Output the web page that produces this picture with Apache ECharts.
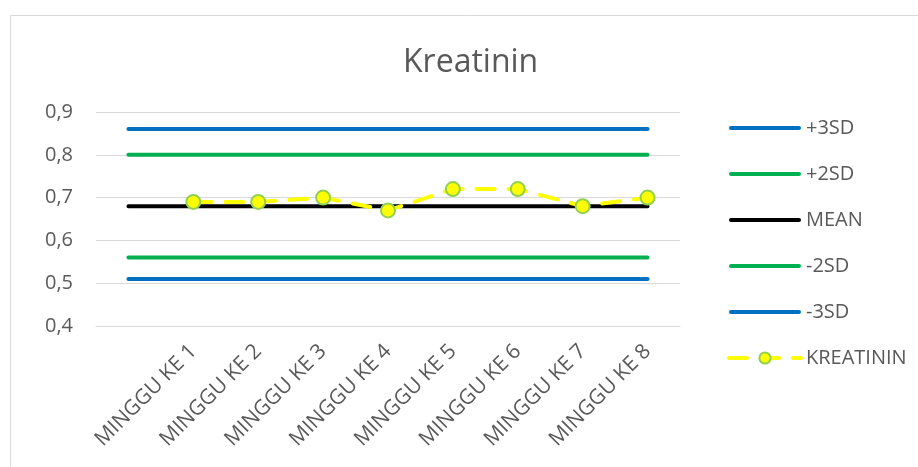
<!DOCTYPE html>
<html>
<head>
<meta charset="utf-8">
<script src="https://cdn.jsdelivr.net/npm/echarts@6/dist/echarts.min.js"></script>
<style>
html,body{margin:0;padding:0;background:#fff;}
#chart{width:918px;height:467px;}
</style>
</head>
<body>
<div id="chart"></div>
<script>
var categories = ['', 'MINGGU KE 1', 'MINGGU KE 2', 'MINGGU KE 3', 'MINGGU KE 4', 'MINGGU KE 5', 'MINGGU KE 6', 'MINGGU KE 7', 'MINGGU KE 8'];
var plus3SD  = [0.86, 0.86, 0.86, 0.86, 0.86, 0.86, 0.86, 0.86, 0.86];
var plus2SD  = [0.80, 0.80, 0.80, 0.80, 0.80, 0.80, 0.80, 0.80, 0.80];
var meanVal  = [0.68, 0.68, 0.68, 0.68, 0.68, 0.68, 0.68, 0.68, 0.68];
var minus2SD = [0.56, 0.56, 0.56, 0.56, 0.56, 0.56, 0.56, 0.56, 0.56];
var minus3SD = [0.51, 0.51, 0.51, 0.51, 0.51, 0.51, 0.51, 0.51, 0.51];
var kreatinin = ['-', 0.69, 0.69, 0.70, 0.67, 0.72, 0.72, 0.68, 0.70];
var yMin = 0.4, yMax = 0.9, yStep = 0.1;

var FONT = 'Open Sans';
var TXT = '#595959';
var BAR_ICON = 'path://M2,0 L70,0 A2,2 0 0 1 70,4 L2,4 A2,2 0 0 1 2,0 Z';

function sdLine(name, data, color) {
  return {
    name: name, type: 'line', data: data, symbol: 'none', showSymbol: false,
    lineStyle: { color: color, width: 4, cap: 'round' },
    itemStyle: { color: color },
    silent: true, animation: false, z: 2
  };
}

var chart = echarts.init(document.getElementById('chart'), null, { renderer: 'canvas' });
chart.setOption({
  animation: false,
  backgroundColor: '#ffffff',
  graphic: [{
    type: 'rect', left: 8, top: 13,
    shape: { width: 1000, height: 1000 },
    style: { fill: 'none', stroke: '#D9D9D9', lineWidth: 1 },
    silent: true, z: -1
  }],
  title: {
    text: 'Kreatinin', left: 398, top: 42,
    textStyle: { fontFamily: FONT, fontSize: 32, fontWeight: 'normal', color: TXT }
  },
  legend: {
    orient: 'vertical', left: 722, top: 111,
    itemWidth: 72, itemHeight: 14, itemGap: 22,
    textStyle: { fontFamily: FONT, fontSize: 20, color: TXT, lineHeight: 24 },
    data: [
      { name: '+3SD', icon: BAR_ICON },
      { name: '+2SD', icon: BAR_ICON },
      { name: 'MEAN', icon: BAR_ICON },
      { name: '-2SD', icon: BAR_ICON },
      { name: '-3SD', icon: BAR_ICON },
      { name: 'KREATININ', lineStyle: { width: 4 } }
    ]
  },
  grid: { left: 96, right: 238, top: 112, bottom: 141, containLabel: false },
  xAxis: {
    type: 'category', data: categories, boundaryGap: true,
    axisLine: { lineStyle: { color: '#D9D9D9', width: 1 } },
    axisTick: { show: false },
    axisLabel: { rotate: 45, interval: 0, margin: 22, fontFamily: FONT, fontSize: 21, color: TXT }
  },
  yAxis: {
    type: 'value', min: yMin, max: yMax, interval: yStep,
    axisLine: { show: false }, axisTick: { show: false },
    splitLine: { lineStyle: { color: '#D9D9D9', width: 1 } },
    axisLabel: {
      margin: 23, fontFamily: FONT, fontSize: 20, color: TXT,
      formatter: function (v) { return v.toFixed(1).replace('.', ','); }
    }
  },
  series: [
    sdLine('+3SD', plus3SD, '#0070C0'),
    sdLine('+2SD', plus2SD, '#00B050'),
    sdLine('MEAN', meanVal, '#000000'),
    sdLine('-2SD', minus2SD, '#00B050'),
    sdLine('-3SD', minus3SD, '#0070C0'),
    {
      name: 'KREATININ', type: 'line', data: kreatinin,
      symbol: 'circle', symbolSize: 14, showSymbol: true,
      lineStyle: { color: '#FFFF00', width: 4, type: [18, 14], cap: 'round' },
      itemStyle: { color: '#FFFF00', borderColor: '#92D050', borderWidth: 2 },
      z: 5
    }
  ]
});
</script>
</body>
</html>
